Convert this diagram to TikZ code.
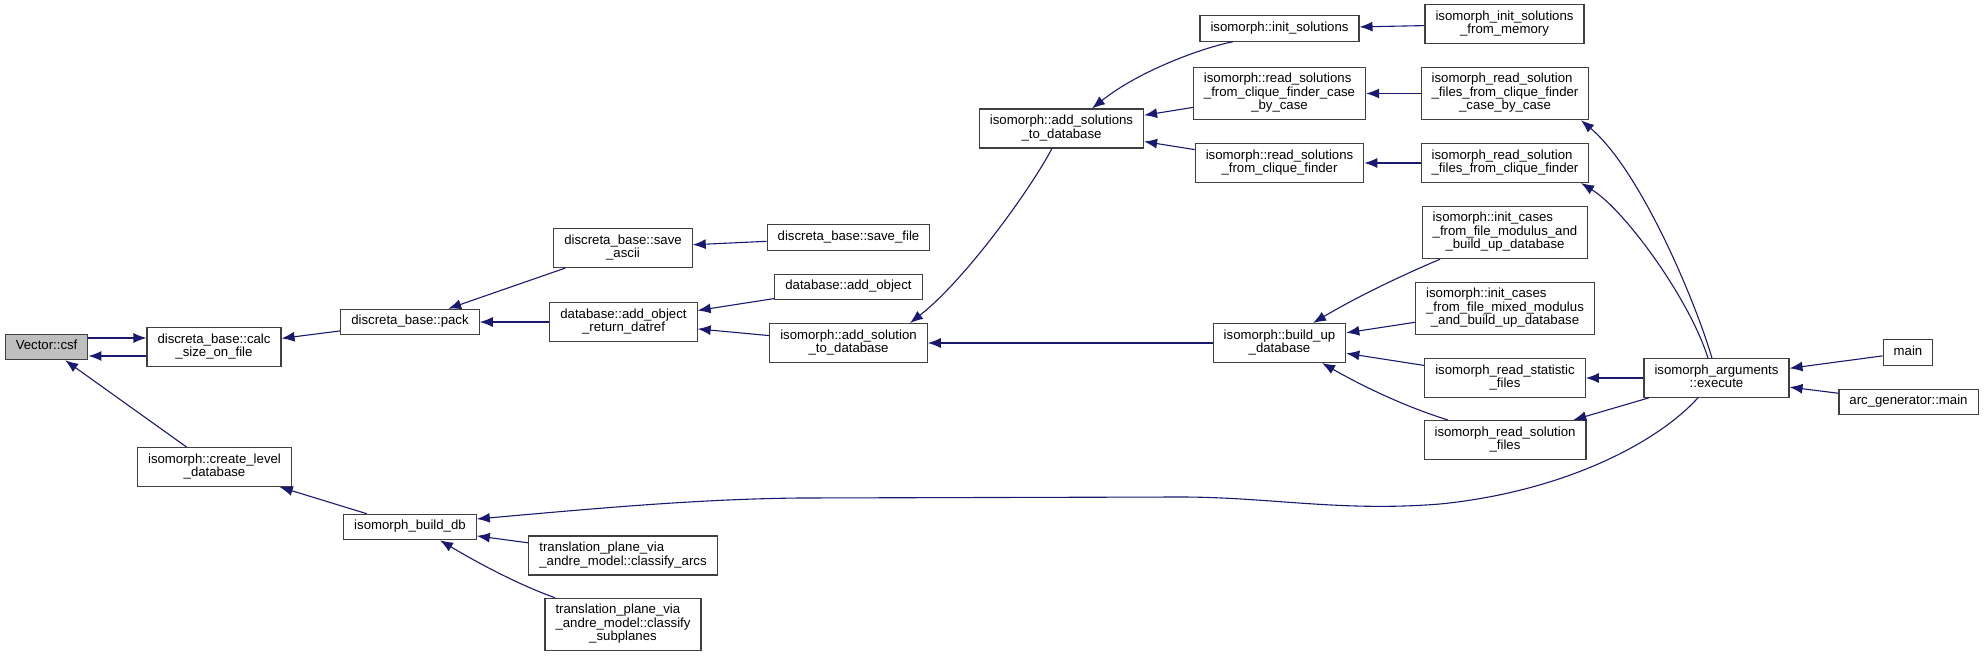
\documentclass[tikz,border=0pt]{standalone}
\usepackage{fontspec}
\setmainfont{Liberation Sans}
\usepackage{tikz}
\usetikzlibrary{arrows.meta, positioning, calc}
\definecolor{edgeblue}{RGB}{25,25,112}
\definecolor{boxline}{RGB}{64,64,64}
\newcommand{\cl}[2]{\begin{tabular}{@{}l@{}}#1\\\multicolumn{1}{@{}c@{}}{#2}\end{tabular}}

\begin{document}
\begin{tikzpicture}[
    x=1pt, y=-1pt,
    box/.style={draw=boxline, line width=1.1pt, fill=white, inner xsep=10.5pt, inner ysep=6pt, font=\fontsize{13.2}{13}\selectfont},
    arrow/.style={-{Latex[length=13pt, width=10pt]}, draw=edgeblue, line width=1.1pt}
]
\useasboundingbox (0,0) rectangle (1984,656);
\node[box, fill=black!25] (csf) at (46.6,347) {\strut Vector::csf};
\node[box] (calc) at (214,347) {\cl{discreta\_base::calc}{\_size\_on\_file}};
\node[box] (pack) at (410,322) {\strut discreta\_base::pack};
\node[box] (level) at (214.5,467) {\cl{isomorph::create\_level}{\_database}};
\node[box] (bdb) at (410,527) {\strut isomorph\_build\_db};
\node[box] (ascii) at (623,248) {\cl{discreta\_base::save}{\_ascii}};
\node[box] (datref) at (623.5,322) {\cl{database::add\_object}{\_return\_datref}};
\node[box] (arcs) at (623,555.5) {\cl{translation\_plane\_via}{\_andre\_model::classify\_arcs}};
\node[box] (subpl) at (623,624.5) {\cl{translation\_plane\_via\\\_andre\_model::classify}{\_subplanes}};
\node[box] (savefile) at (848.5,237.5) {\strut discreta\_base::save\_file};
\node[box] (addobj) at (848.5,287) {\strut database::add\_object};
\node[box] (addsol) at (848.5,343) {\cl{isomorph::add\_solution}{\_to\_database}};
\node[box] (addsols) at (1061.5,128.5) {\cl{isomorph::add\_solutions}{\_to\_database}};
\node[box] (buildup) at (1279.5,343) {\cl{isomorph::build\_up}{\_database}};
\node[box] (initsol) at (1279.5,28.5) {\strut isomorph::init\_solutions};
\node[box] (rsccbc) at (1279.5,93.5) {\cl{isomorph::read\_solutions\\\_from\_clique\_finder\_case}{\_by\_case}};
\node[box] (rscf) at (1279.5,163) {\cl{isomorph::read\_solutions}{\_from\_clique\_finder}};
\node[box] (initmem) at (1504.5,24) {\cl{isomorph\_init\_solutions}{\_from\_memory}};
\node[box] (rfccbc) at (1505,93.5) {\cl{isomorph\_read\_solution\\\_files\_from\_clique\_finder}{\_case\_by\_case}};
\node[box] (rfcf) at (1505,163) {\cl{isomorph\_read\_solution}{\_files\_from\_clique\_finder}};
\node[box] (modulus) at (1505,232.5) {\cl{isomorph::init\_cases\\\_from\_file\_modulus\_and}{\_build\_up\_database}};
\node[box] (mixed) at (1505,308.5) {\cl{isomorph::init\_cases\\\_from\_file\_mixed\_modulus}{\_and\_build\_up\_database}};
\node[box] (stat) at (1505,378) {\cl{isomorph\_read\_statistic}{\_files}};
\node[box] (solfiles) at (1505,440) {\cl{isomorph\_read\_solution}{\_files}};
\node[box] (exec) at (1716.5,378) {\cl{isomorph\_arguments}{::execute}};
\node[box] (main) at (1908,352.5) {\strut main};
\node[box] (arcmain) at (1908.5,402) {\strut arc\_generator::main};
\draw[arrow] ([yshift=9pt]csf.east) -- ([yshift=9pt]calc.west);
\draw[arrow] ([yshift=-9pt]calc.west) -- ([yshift=-9pt]csf.east);
\draw[arrow] (level) -- (csf);
\draw[arrow] (pack) -- (calc);
\draw[arrow] (bdb) -- (level);
\draw[arrow] (ascii) -- (pack);
\draw[arrow] (datref) -- (pack);
\draw[arrow] (arcs) -- (bdb);
\draw[arrow] ([xshift=-68pt]subpl.north) .. controls (517,584) and (478,563) .. ([xshift=30pt]bdb.south);
\draw[arrow] (savefile) -- (ascii);
\draw[arrow] (addobj) -- (datref);
\draw[arrow] (addsol) -- (datref);
\draw[arrow] ([xshift=-9.5pt]addsols.south) .. controls (1030,190) and (965,280) .. ([xshift=61.5pt]addsol.north);
\draw[arrow] (buildup) -- (addsol);
\draw[arrow] ([xshift=-46.5pt]initsol.south) .. controls (1205,47) and (1140,70) .. ([xshift=30.5pt]addsols.north);
\draw[arrow] (rsccbc) -- (addsols);
\draw[arrow] (rscf) -- (addsols);
\draw[arrow] (initmem) -- (initsol);
\draw[arrow] (rfccbc) -- (rsccbc);
\draw[arrow] (rfcf) -- (rscf);
\draw[arrow] ([xshift=-65pt]modulus.south) .. controls (1398,277) and (1355,298) .. ([xshift=33.5pt]buildup.north);
\draw[arrow] (mixed) -- (buildup);
\draw[arrow] (stat) -- (buildup);
\draw[arrow] ([xshift=-57pt]solfiles.north) .. controls (1406,407) and (1364,387) .. ([xshift=42.5pt]buildup.south);
\draw[arrow] (exec) -- (stat);
\draw[arrow] (exec) -- (solfiles);
\draw[arrow] ([xshift=-4.5pt]exec.north) .. controls (1695,300) and (1640,170) .. ([xshift=76pt]rfccbc.south);
\draw[arrow] ([xshift=-8.5pt]exec.north) .. controls (1690,300) and (1625,210) .. ([xshift=76pt]rfcf.south);
\draw[arrow] ([xshift=-18.5pt]exec.south) .. controls (1655,445) and (1560,492) .. (1440,504) .. controls (1340,512) and (1270,497) .. (1180,497) -- (800,498) .. controls (700,499) and (600,508) .. ([yshift=8pt]bdb.east);
\draw[arrow] (main) -- (exec);
\draw[arrow] (arcmain) -- (exec);
\end{tikzpicture}
\end{document}
